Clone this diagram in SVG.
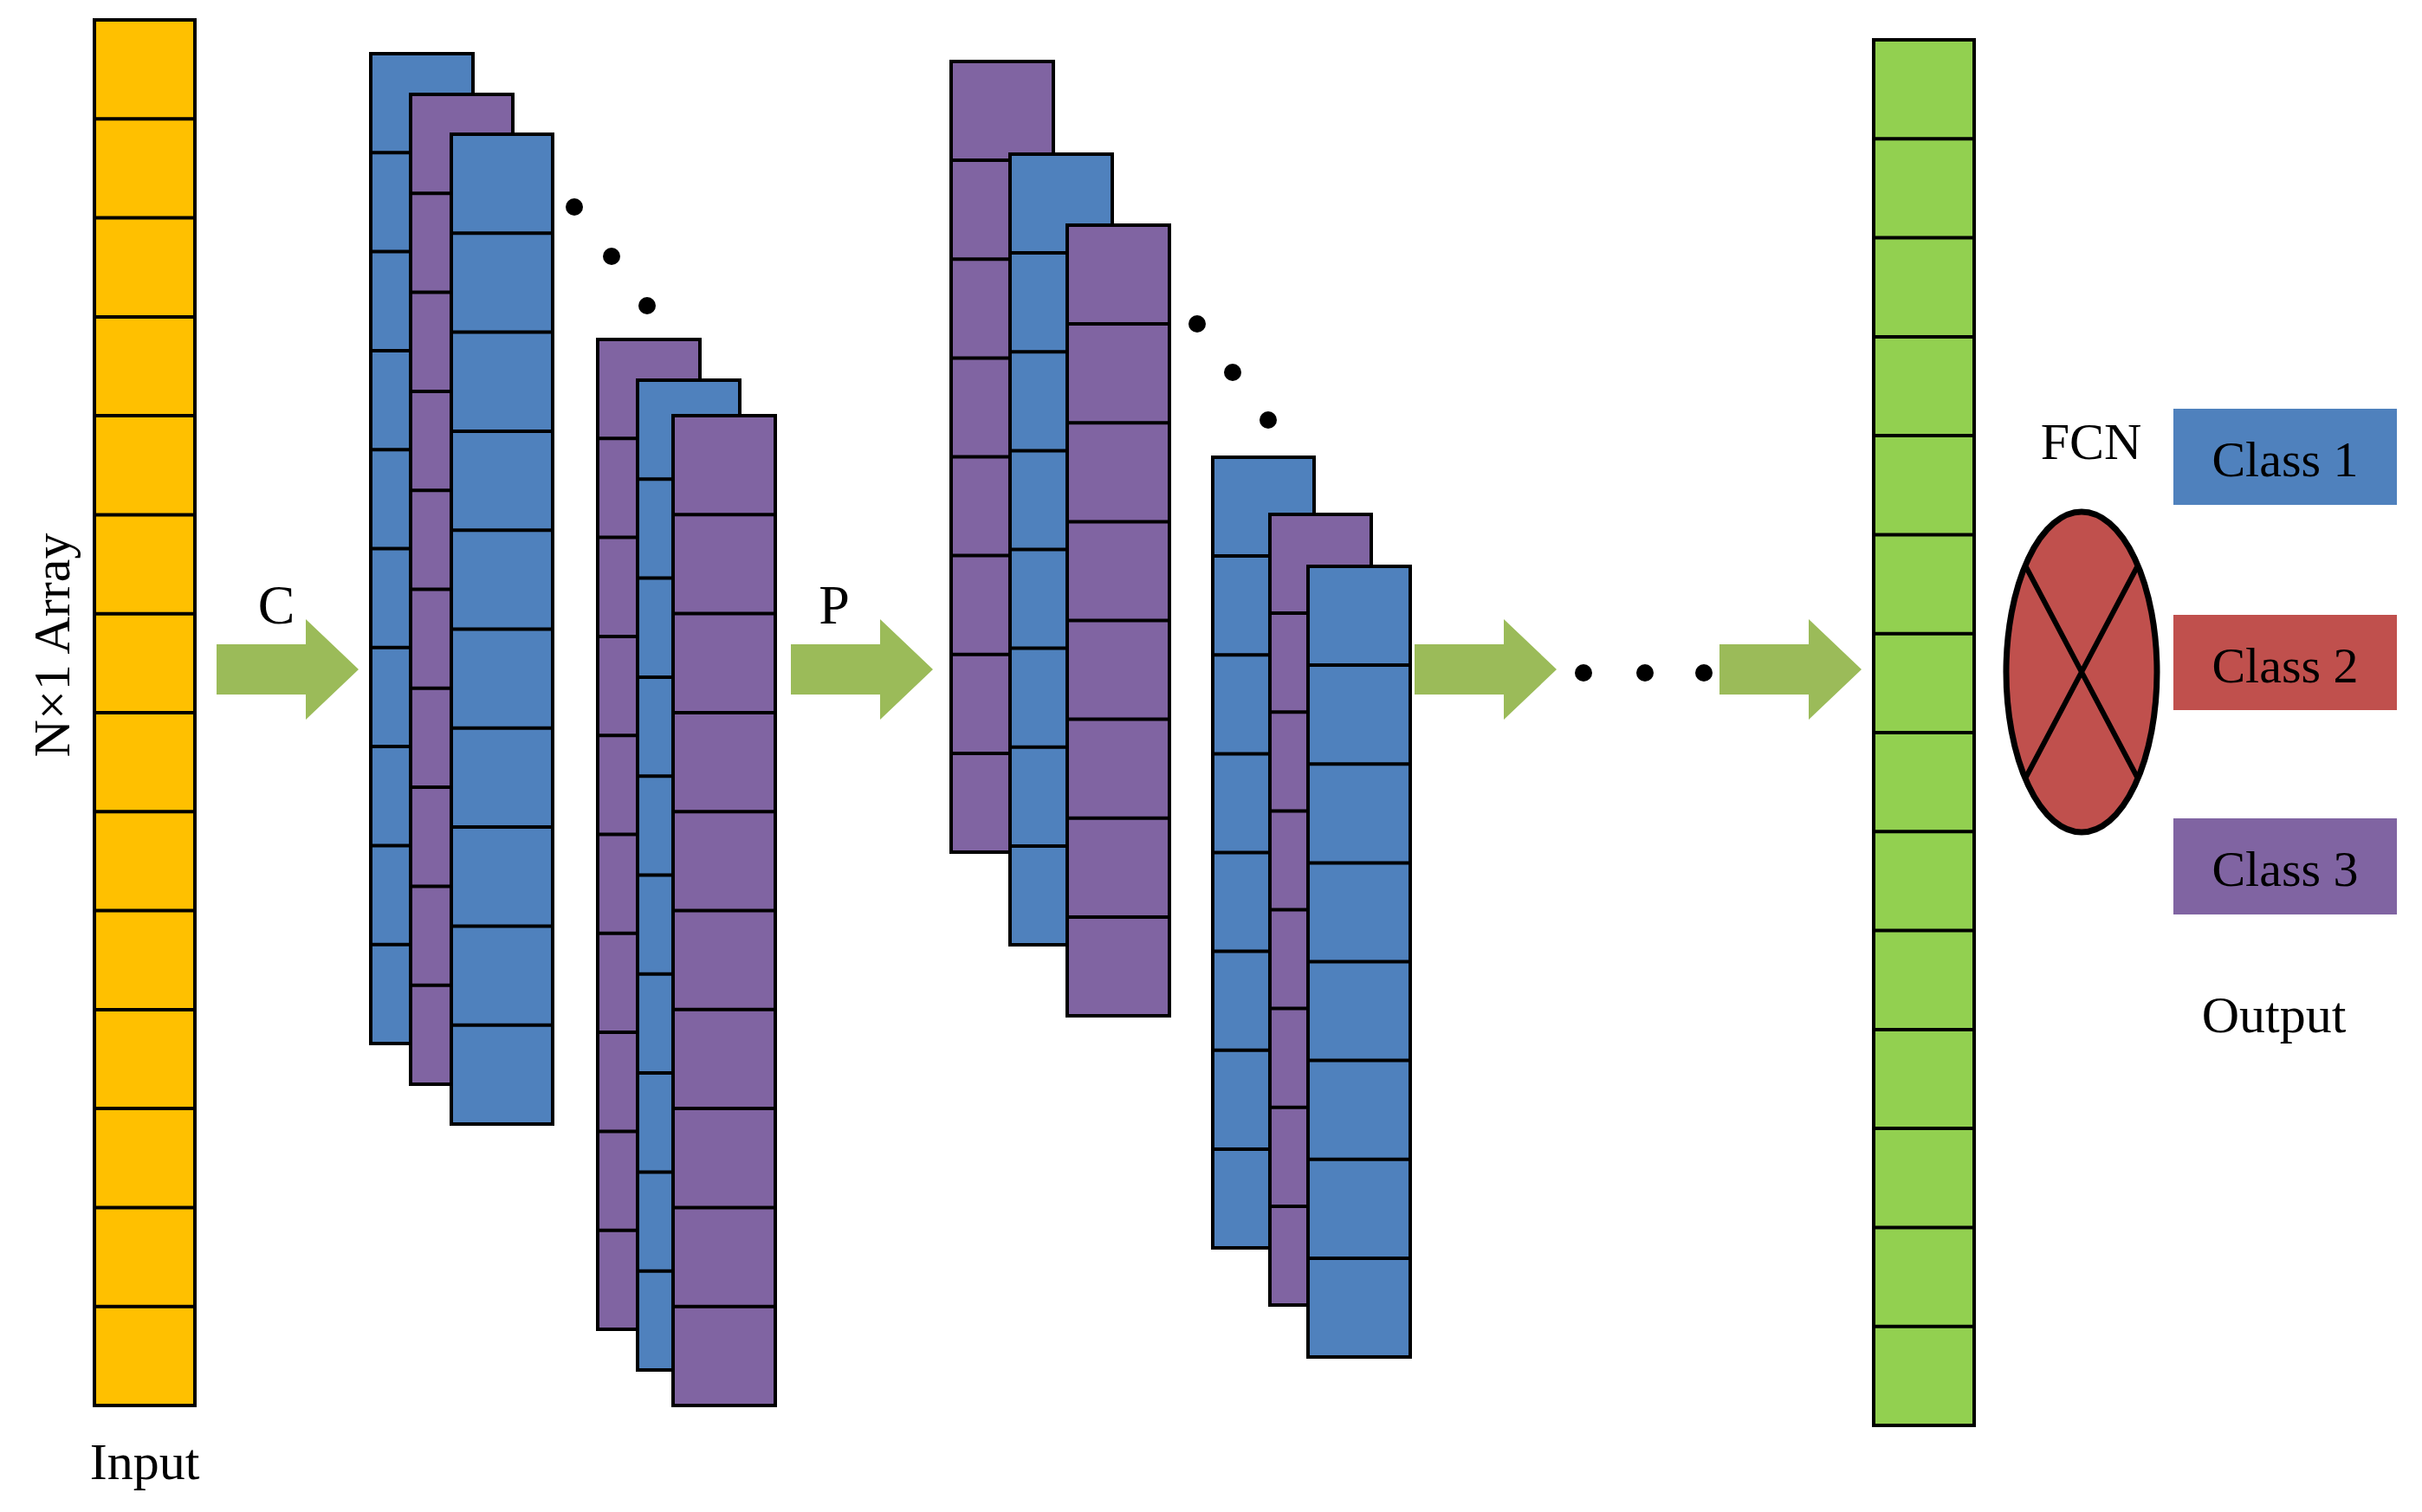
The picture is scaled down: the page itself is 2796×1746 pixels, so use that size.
<svg xmlns="http://www.w3.org/2000/svg" width="2796" height="1746" viewBox="0 0 2796 1746">
<style>
.c{stroke:#000;stroke-width:4}
.y{fill:#FFC000}.b{fill:#4F81BD}.p{fill:#8064A2}.g{fill:#92D050}
.l{fill:none;stroke:#000;stroke-width:4}
.a{fill:#9BBB59}
text{font-family:"Liberation Serif",serif;fill:#000}
</style>
<defs>
<path id="ar" d="M0,-29 H103 V-58 L164,0 L103,58 V29 H0 Z"/>
</defs>
<rect width="2796" height="1746" fill="#fff"/>
<g id="input">
<rect class="c y" x="109" y="23" width="116" height="1600"/>
<path class="l" d="M109,137.3H225M109,251.6H225M109,365.9H225M109,480.1H225M109,594.4H225M109,708.7H225M109,823H225M109,937.3H225M109,1051.6H225M109,1165.9H225M109,1280.1H225M109,1394.4H225M109,1508.7H225"/>
<text x="167" y="1708" font-size="60" text-anchor="middle">Input</text>
<text transform="translate(80,745) rotate(-90)" font-size="60" text-anchor="middle">N×1 Array</text>
</g>
<g id="conv">
<rect class="c b" x="428" y="62" width="118" height="1143"/>
<path class="l" d="M428,176.3H546M428,290.6H546M428,404.9H546M428,519.2H546M428,633.5H546M428,747.8H546M428,862.1H546M428,976.4H546M428,1090.7H546"/>
<rect class="c p" x="474" y="109" width="118" height="1143"/>
<path class="l" d="M474,223.3H592M474,337.6H592M474,451.9H592M474,566.2H592M474,680.5H592M474,794.8H592M474,909.1H592M474,1023.4H592M474,1137.7H592"/>
<rect class="c b" x="521" y="155" width="117" height="1143"/>
<path class="l" d="M521,269.3H638M521,383.6H638M521,497.9H638M521,612.2H638M521,726.5H638M521,840.8H638M521,955.1H638M521,1069.4H638M521,1183.7H638"/>
<circle cx="663" cy="239" r="10"/><circle cx="706" cy="296" r="10"/><circle cx="747" cy="353" r="10"/>
<rect class="c p" x="690" y="392" width="118" height="1143"/>
<path class="l" d="M690,506.3H808M690,620.6H808M690,734.9H808M690,849.2H808M690,963.5H808M690,1077.8H808M690,1192.1H808M690,1306.4H808M690,1420.7H808"/>
<rect class="c b" x="736" y="439" width="118" height="1143"/>
<path class="l" d="M736,553.3H854M736,667.6H854M736,781.9H854M736,896.2H854M736,1010.5H854M736,1124.8H854M736,1239.1H854M736,1353.4H854M736,1467.7H854"/>
<rect class="c p" x="777" y="480" width="118" height="1143"/>
<path class="l" d="M777,594.3H895M777,708.6H895M777,822.9H895M777,937.2H895M777,1051.5H895M777,1165.8H895M777,1280.1H895M777,1394.4H895M777,1508.7H895"/>
</g>
<g id="pool">
<rect class="c p" x="1098" y="71" width="118" height="913"/>
<path class="l" d="M1098,185.1H1216M1098,299.3H1216M1098,413.4H1216M1098,527.5H1216M1098,641.6H1216M1098,755.8H1216M1098,869.9H1216"/>
<rect class="c b" x="1166" y="178" width="118" height="913"/>
<path class="l" d="M1166,292.1H1284M1166,406.3H1284M1166,520.4H1284M1166,634.5H1284M1166,748.6H1284M1166,862.8H1284M1166,976.9H1284"/>
<rect class="c p" x="1232" y="260" width="118" height="913"/>
<path class="l" d="M1232,374.1H1350M1232,488.3H1350M1232,602.4H1350M1232,716.5H1350M1232,830.6H1350M1232,944.8H1350M1232,1058.9H1350"/>
<circle cx="1382" cy="374" r="10"/><circle cx="1423" cy="430" r="10"/><circle cx="1464" cy="485" r="10"/>
<rect class="c b" x="1400" y="528" width="117" height="913"/>
<path class="l" d="M1400,642.1H1517M1400,756.3H1517M1400,870.4H1517M1400,984.5H1517M1400,1098.6H1517M1400,1212.8H1517M1400,1326.9H1517"/>
<rect class="c p" x="1466" y="594" width="117" height="913"/>
<path class="l" d="M1466,708.1H1583M1466,822.3H1583M1466,936.4H1583M1466,1050.5H1583M1466,1164.6H1583M1466,1278.8H1583M1466,1392.9H1583"/>
<rect class="c b" x="1510" y="654" width="118" height="913"/>
<path class="l" d="M1510,768.1H1628M1510,882.3H1628M1510,996.4H1628M1510,1110.5H1628M1510,1224.6H1628M1510,1338.8H1628M1510,1452.9H1628"/>
</g>
<g id="fc">
<rect class="c g" x="2163" y="46" width="116" height="1600"/>
<path class="l" d="M2163,160.3H2279M2163,274.6H2279M2163,388.9H2279M2163,503.1H2279M2163,617.4H2279M2163,731.7H2279M2163,846H2279M2163,960.3H2279M2163,1074.6H2279M2163,1188.9H2279M2163,1303.1H2279M2163,1417.4H2279M2163,1531.7H2279"/>
</g>
<g id="fcn">
<ellipse cx="2403" cy="776" rx="87" ry="185" fill="#C0504D" stroke="#000" stroke-width="7"/>
<path d="M2338,653L2468,899M2468,653L2338,899" stroke="#000" stroke-width="6"/>
<text x="2414" y="530" font-size="60" text-anchor="middle">FCN</text>
</g>
<g id="outputs">
<rect x="2509" y="472" width="258" height="111" fill="#4F81BD"/>
<text x="2638" y="550" font-size="58" text-anchor="middle">Class 1</text>
<rect x="2509" y="710" width="258" height="110" fill="#C0504D"/>
<text x="2638" y="788" font-size="58" text-anchor="middle">Class 2</text>
<rect x="2509" y="945" width="258" height="111" fill="#8064A2"/>
<text x="2638" y="1023" font-size="58" text-anchor="middle">Class 3</text>
<text x="2625" y="1192" font-size="60" text-anchor="middle">Output</text>
</g>
<g id="connectors">
<use href="#ar" class="a" transform="translate(250,773)"/>
<text x="319" y="720" font-size="64" text-anchor="middle">C</text>
<use href="#ar" class="a" transform="translate(913,773)"/>
<text x="963" y="720" font-size="64" text-anchor="middle">P</text>
<use href="#ar" class="a" transform="translate(1633,773)"/>
<circle cx="1828" cy="777" r="10"/><circle cx="1899" cy="777" r="10"/><circle cx="1967" cy="777" r="10"/>
<use href="#ar" class="a" transform="translate(1985,773)"/>
</g>
</svg>
